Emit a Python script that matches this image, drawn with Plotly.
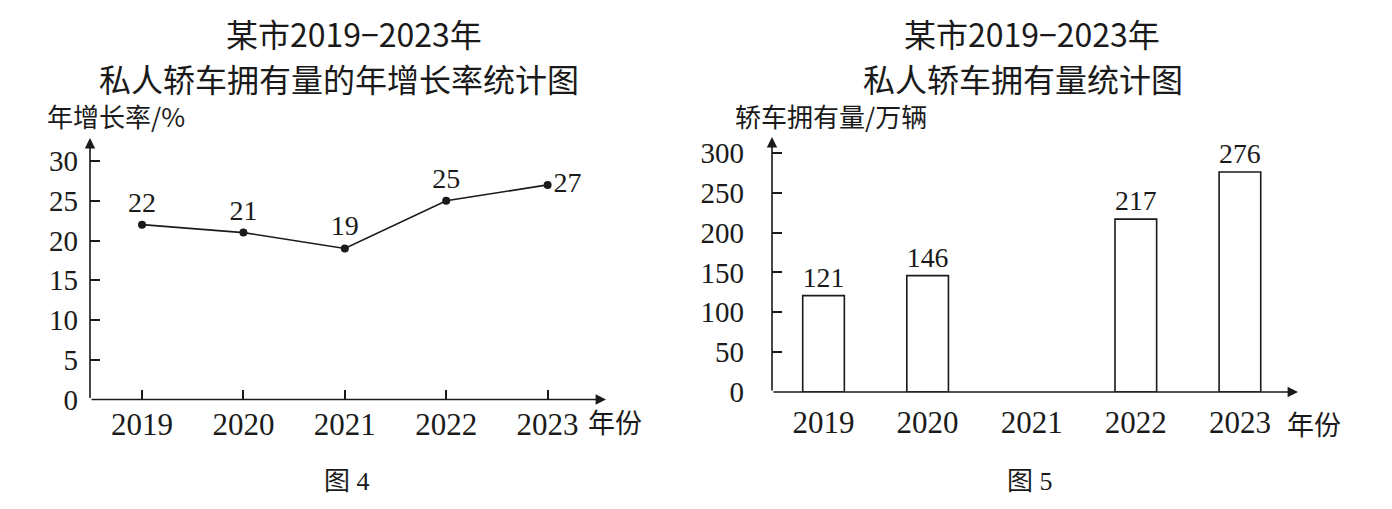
import plotly.graph_objects as go

# data
years = ["2019", "2020", "2021", "2022", "2023"]
growth_rate = [22, 21, 19, 25, 27]          # 年增长率 %
car_count = [121, 146, None, 217, 276]      # 轿车拥有量 万辆 (2021 left blank)
rate_ticks = [0, 5, 10, 15, 20, 25, 30]
count_ticks = [0, 50, 100, 150, 200, 250, 300]

# the page body keeps its default 8px margin, so the figure is made smaller
# than the window; the rendered plot comes out ~16px shorter than asked,
# so vertical positions are mapped over that effective height
OFF = 8
W, H = 1392 - 2 * OFF, 509 - 2 * OFF
H_EFF = H - 16
SERIF = "Liberation Serif, Times New Roman, serif"
CJK = "Noto Sans CJK SC, sans-serif"
INK = "#1a1a1a"


def px(x):
    return (x - OFF) / W


def py(y):
    return 1 - (y - OFF) / H_EFF


fig = go.Figure()

# 图4: line chart
fig.add_trace(go.Scatter(
    x=years, y=growth_rate, mode="lines+markers+text",
    line=dict(color=INK, width=1.6),
    marker=dict(color=INK, size=8),
    text=[str(v) for v in growth_rate],
    textposition=["top center"] * 4 + ["middle right"],
    textfont=dict(family=SERIF, size=28, color=INK),
    cliponaxis=False, showlegend=False,
    xaxis="x", yaxis="y",
))

# 图5: bar chart
fig.add_trace(go.Bar(
    x=years, y=car_count, width=0.4,
    marker=dict(color="white", line=dict(color=INK, width=1.6)),
    text=["" if v is None else str(v) for v in car_count],
    textposition="outside",
    textfont=dict(family=SERIF, size=28, color=INK),
    cliponaxis=False, showlegend=False,
    xaxis="x2", yaxis="y2",
))

axis_common = dict(
    showgrid=False, zeroline=False, showline=False,
    ticks="inside", tickcolor=INK, tickwidth=1.5, ticklen=10,
    tickfont=dict(family=SERIF, size=29, color=INK),
)

fig.update_layout(
    width=W, height=H,
    margin=dict(l=0, r=0, t=0, b=0),
    paper_bgcolor="white", plot_bgcolor="white",
    xaxis=dict(axis_common, domain=[px(90), px(606)], range=[-0.513, 4.576],
               type="category", anchor="y", ticklabelstandoff=3,
               tickfont=dict(family=SERIF, size=31, color=INK)),
    yaxis=dict(axis_common, domain=[py(399.5), py(138)], range=[0, 32.9],
               tickvals=rate_ticks, anchor="x", ticklabelstandoff=11),
    xaxis2=dict(axis_common, domain=[px(772), px(1298)], range=[-0.495, 4.558],
                type="category", anchor="y2", ticks="", ticklabelstandoff=9,
                tickfont=dict(family=SERIF, size=31, color=INK)),
    yaxis2=dict(axis_common, domain=[py(392), py(137)], range=[0, 320],
                tickvals=count_ticks, anchor="x2", ticklabelstandoff=27),
)

# axis lines with arrowheads
arrow = dict(text="", showarrow=True, arrowhead=2, arrowsize=1.3,
             arrowwidth=1.6, arrowcolor=INK, standoff=0)
fig.add_annotation(arrow, x=4.576, y=0, ax=-0.513, ay=0,
                   xref="x", yref="y", axref="x", ayref="y")
fig.add_annotation(arrow, x=-0.513, y=32.9, ax=-0.513, ay=0,
                   xref="x", yref="y", axref="x", ayref="y")
fig.add_annotation(arrow, x=4.558, y=0, ax=-0.495, ay=0,
                   xref="x2", yref="y2", axref="x2", ayref="y2")
fig.add_annotation(arrow, x=-0.495, y=320, ax=-0.495, ay=0,
                   xref="x2", yref="y2", axref="x2", ayref="y2")

texts = [
    # (text, x, y, size, family, xanchor)
    ("某市2019−2023年", 354, 33, 32, CJK, "center"),
    ("私人轿车拥有量的年增长率统计图", 339, 78, 32, CJK, "center"),
    ("某市2019−2023年", 1032, 33, 32, CJK, "center"),
    ("私人轿车拥有量统计图", 1023, 78, 32, CJK, "center"),
    ("年增长率/%", 45, 116, 26, CJK, "left"),
    ("轿车拥有量/万辆", 733, 116, 26, CJK, "left"),
    ("年份", 586, 421, 27, CJK, "left"),
    ("年份", 1285, 423, 27, CJK, "left"),
    ("图 4", 347, 481, 26, SERIF + ", " + CJK, "center"),
    ("图 5", 1030, 481, 26, SERIF + ", " + CJK, "center"),
]
for t, x, y, size, fam, xa in texts:
    fig.add_annotation(text=t, x=px(x), y=py(y), xref="paper", yref="paper",
                       xanchor=xa, yanchor="middle", showarrow=False,
                       font=dict(family=fam, size=size, color=INK))

fig.write_html("out.html")
